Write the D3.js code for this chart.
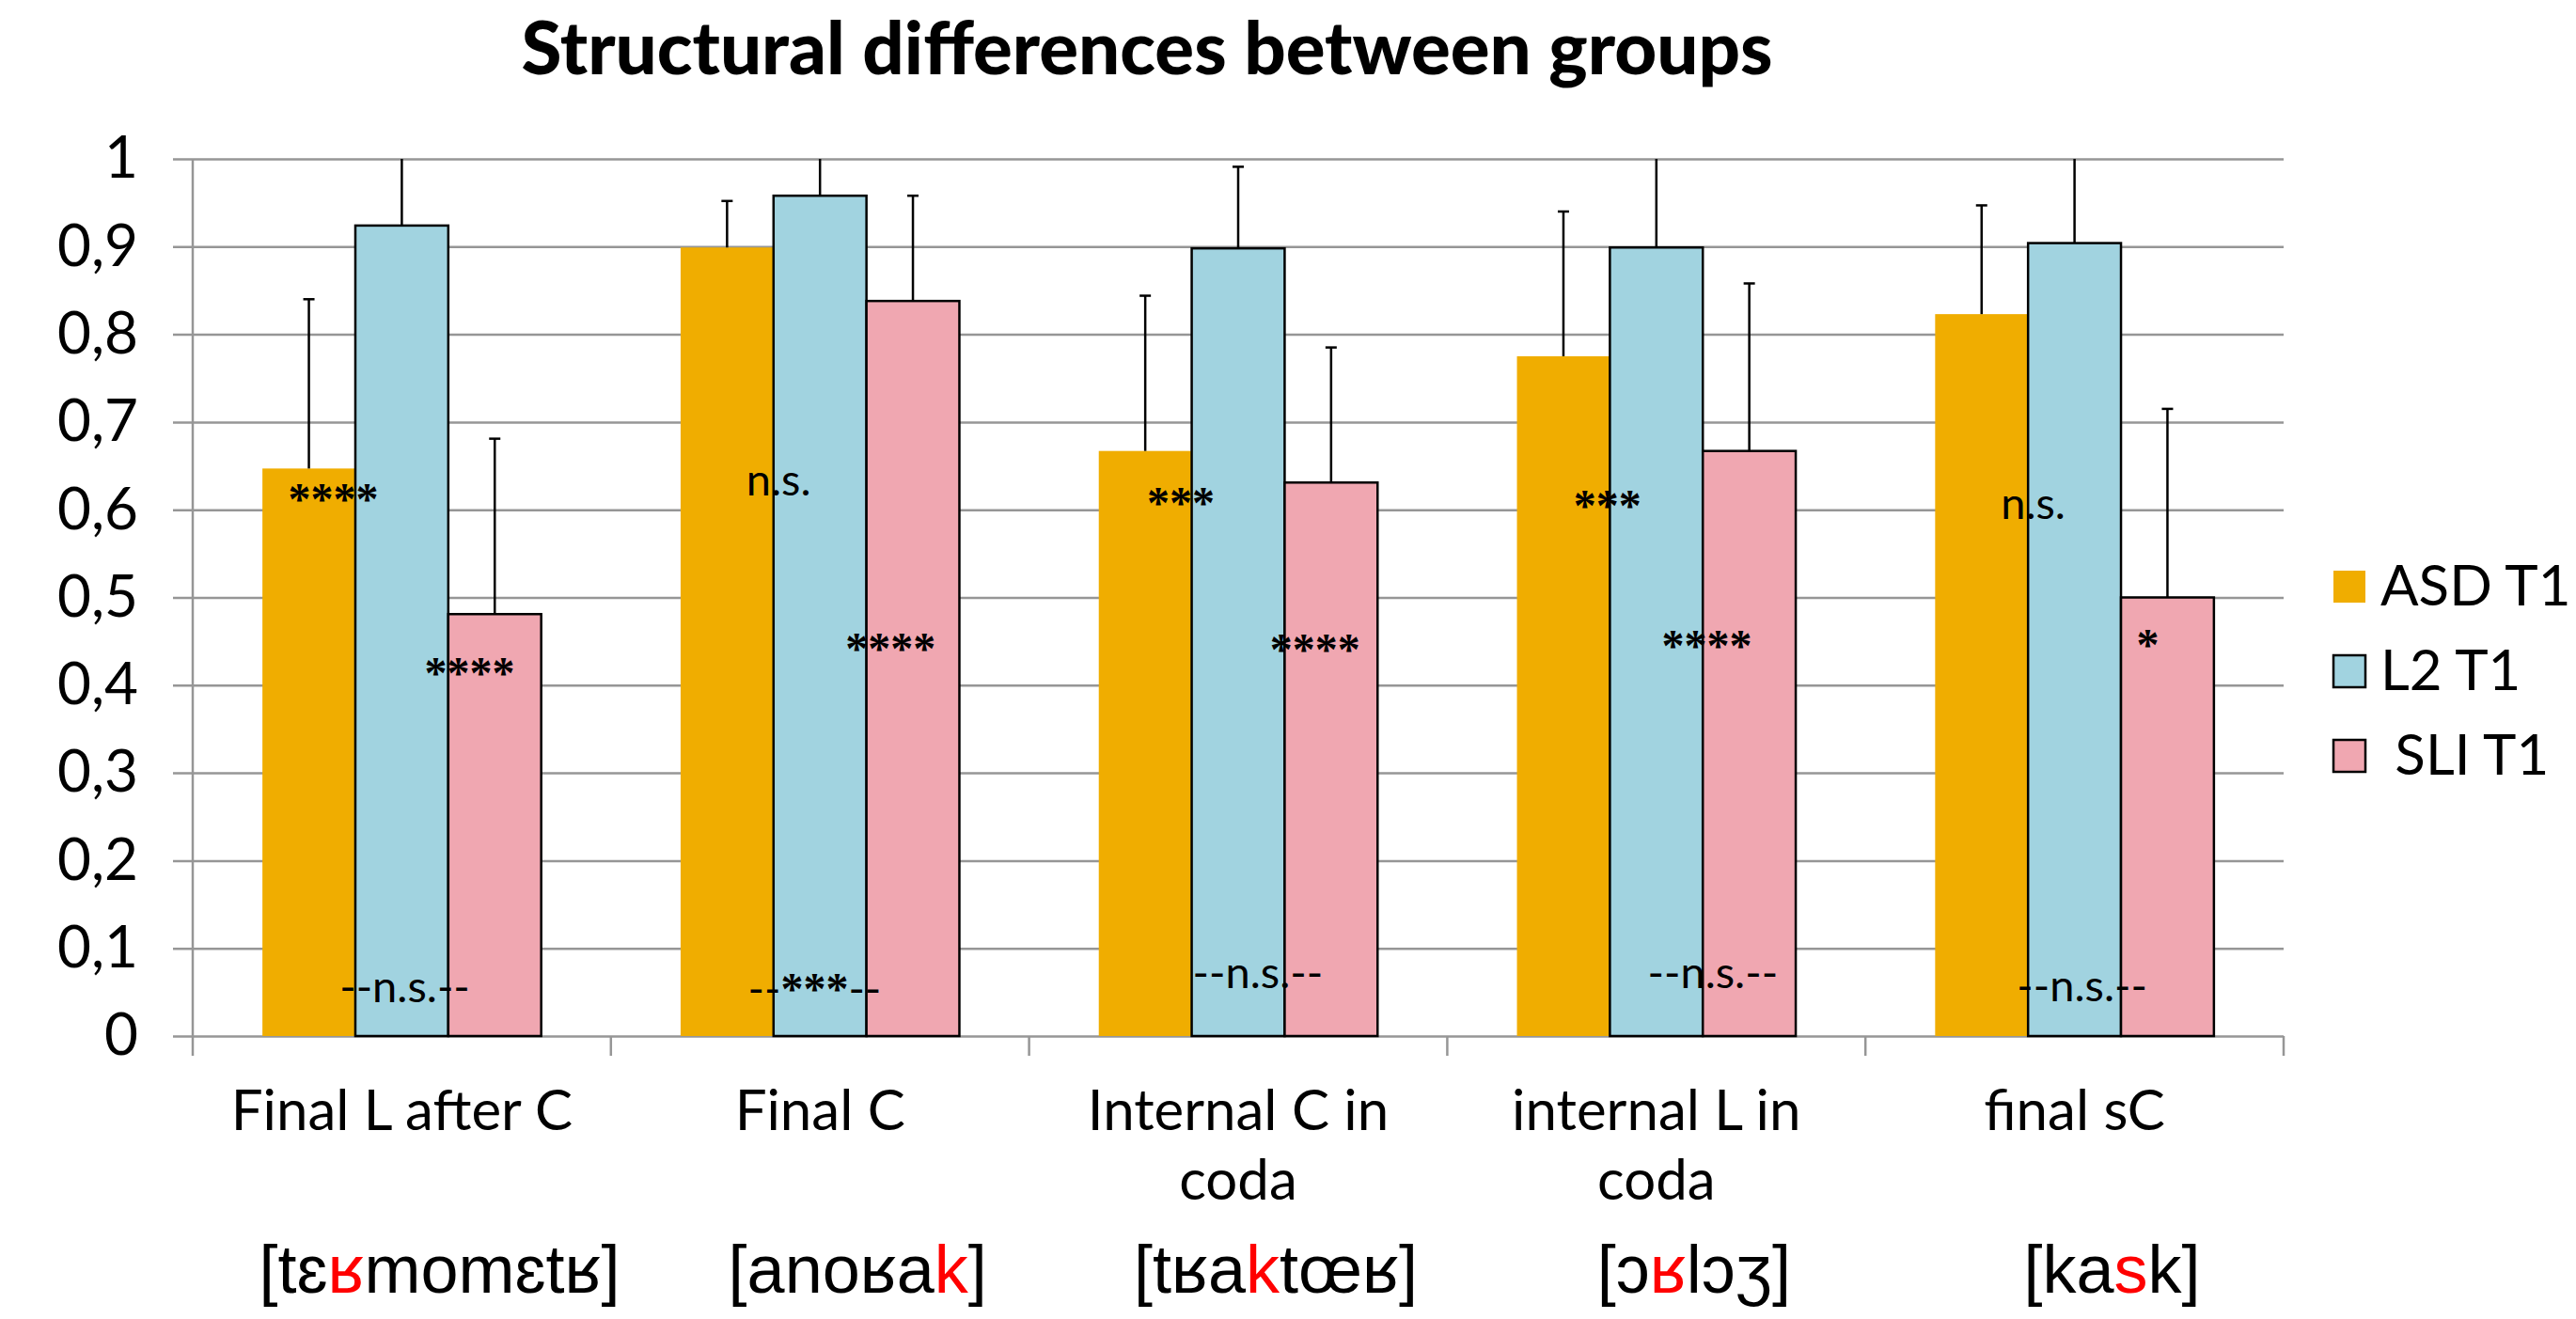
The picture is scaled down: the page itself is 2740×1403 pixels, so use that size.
<!DOCTYPE html>
<html>
<head>
<meta charset="utf-8">
<script src="https://cdn.jsdelivr.net/npm/d3@7"></script>
<style>
  body { margin: 0; background: #fff; }
  svg { display: block; }
</style>
</head>
<body>
<svg width="2740" height="1403"></svg>
<script>
var categories = ["Final L after C", "Final C", "Internal C in\ncoda", "internal L in\ncoda", "final sC"];
var seriesNames = ["ASD T1", "L2 T1", " SLI T1"];
var seriesColors = ["#f0ad00", "#a1d3e0", "#f0a7b1"];

// mean scores
var asd = [0.647, 0.899, 0.667, 0.775, 0.823];
var l2 = [0.924, 0.958, 0.898, 0.899, 0.904];
var sli = [0.481, 0.838, 0.631, 0.667, 0.500];

// standard deviations (plus side only), L2 ones mostly clipped at 1
var asdSD = [0.193, 0.053, 0.177, 0.165, 0.124];
var l2SD = [0.11, 0.07, 0.093, 0.13, 0.12];
var sliSD = [0.200, 0.120, 0.154, 0.191, 0.215];

var tickValues = [0, 0.1, 0.2, 0.3, 0.4, 0.5, 0.6, 0.7, 0.8, 0.9, 1];
var tickLabels = ["0", "0,1", "0,2", "0,3", "0,4", "0,5", "0,6", "0,7", "0,8", "0,9", "1"];

// IPA example words, middle part is red
var ipaBefore = ["[tɛ", "[anoʁa", "[tʁa", "[ɔ", "[ka"];
var ipaRed = ["ʁ", "k", "k", "ʁ", "s"];
var ipaAfter = ["momɛtʁ]", "]", "tœʁ]", "lɔʒ]", "k]"];

// significance notes: category, offset across the band, height (value)
var noteText = ["****", "****", "--n.s.--", "n.s.", "****", "--***--", "***", "****", "--n.s.--", "***", "****", "--n.s.--", "n.s.", "*", "--n.s.--"];
var noteCat = [0, 0, 0, 1, 1, 1, 2, 2, 2, 3, 3, 3, 4, 4, 4];
var noteDx = [-0.164, 0.162, 0.007, -0.099, 0.169, -0.013, -0.137, 0.184, 0.047, -0.117, 0.121, 0.135, -0.099, 0.175, 0.018];
var noteY = [0.595, 0.397, 0.039, 0.616, 0.424, 0.036, 0.591, 0.423, 0.055, 0.587, 0.428, 0.055, 0.590, 0.429, 0.040];

var svg = d3.select("svg"),
  plotLeft = 205, plotRight = 2429, plotTop = 169, plotBottom = 1102;

var sans = "Lato, 'Open Sans', sans-serif";

var x = d3.scaleBand()
  .domain(categories)
  .range([plotLeft, plotRight]);

var bw = x.bandwidth() / 4.5;
var x1 = d3.scaleBand()
  .domain(d3.range(3))
  .range([x.bandwidth() / 2 - 1.5 * bw, x.bandwidth() / 2 + 1.5 * bw]);

var y = d3.scaleLinear()
  .domain([0, 1])
  .range([plotBottom, plotTop]);

var grey = "#969696";

// title
svg.append("text")
  .attr("x", 1220)
  .attr("y", 79)
  .attr("text-anchor", "middle")
  .style("font-family", sans)
  .style("font-weight", 900)
  .style("font-size", "78px")
  .text("Structural differences between groups");

// y axis with gridlines
var yAxis = svg.append("g")
  .attr("transform", "translate(184,0)")
  .call(d3.axisLeft(y)
    .tickValues(tickValues)
    .tickFormat(function(d, i) { return tickLabels[i]; })
    .tickSize(-(plotRight - 184))
    .tickPadding(37));

yAxis.select(".domain").remove();
yAxis.selectAll(".tick line")
  .attr("stroke", grey)
  .attr("stroke-width", 2.5);
yAxis.selectAll(".tick text")
  .style("font-family", sans)
  .style("font-size", "62px")
  .attr("fill", "#000");

// vertical axis line and category ticks
svg.append("line")
  .attr("x1", plotLeft).attr("x2", plotLeft)
  .attr("y1", plotTop).attr("y2", plotBottom + 21)
  .attr("stroke", grey).attr("stroke-width", 2.5);

svg.selectAll(".cat-tick")
  .data(categories)
  .enter().append("line")
  .attr("class", "cat-tick")
  .attr("x1", function(d) { return x(d) + x.bandwidth(); })
  .attr("x2", function(d) { return x(d) + x.bandwidth(); })
  .attr("y1", plotBottom)
  .attr("y2", plotBottom + 21)
  .attr("stroke", grey).attr("stroke-width", 2.5);

// bars
var table = categories.map(function(c, i) {
  return [
    { cat: c, s: 0, v: asd[i], sd: asdSD[i] },
    { cat: c, s: 1, v: l2[i], sd: l2SD[i] },
    { cat: c, s: 2, v: sli[i], sd: sliSD[i] }
  ];
});

svg.append("defs").append("clipPath")
  .attr("id", "plot")
  .append("rect")
  .attr("x", plotLeft).attr("y", plotTop)
  .attr("width", plotRight - plotLeft).attr("height", plotBottom - plotTop);

var group = svg.append("g").selectAll("g")
  .data(table)
  .enter().append("g")
  .attr("transform", function(d) { return "translate(" + x(d[0].cat) + ",0)"; });

group.selectAll("rect")
  .data(function(d) { return d; })
  .enter().append("rect")
  .attr("x", function(d) { return x1(d.s); })
  .attr("y", function(d) { return y(d.v); })
  .attr("width", bw)
  .attr("height", function(d) { return y(0) - y(d.v); })
  .attr("fill", function(d) { return seriesColors[d.s]; })
  .attr("stroke", function(d) { return d.s === 0 ? "none" : "#000"; })
  .attr("stroke-width", 2.5);

// error bars (upper only)
var err = svg.append("g").attr("clip-path", "url(#plot)")
  .selectAll("g")
  .data(d3.merge(table))
  .enter().append("g")
  .attr("transform", function(d) { return "translate(" + (x(d.cat) + x1(d.s) + bw / 2) + ",0)"; })
  .attr("stroke", "#000")
  .attr("stroke-width", 2.5);

err.append("line")
  .attr("y1", function(d) { return y(d.v); })
  .attr("y2", function(d) { return y(d.v + d.sd); });

err.append("line")
  .attr("x1", -6).attr("x2", 6)
  .attr("y1", function(d) { return y(d.v + d.sd); })
  .attr("y2", function(d) { return y(d.v + d.sd); });

// significance notes, asterisks set in a serif face
var notes = svg.append("g").selectAll("text")
  .data(noteText)
  .enter().append("text")
  .attr("x", function(d, i) { return x(categories[noteCat[i]]) + x.bandwidth() * (0.5 + noteDx[i]); })
  .attr("y", function(d, i) { return y(noteY[i]); })
  .attr("text-anchor", "middle")
  .style("font-family", sans)
  .style("font-size", "47px");

notes.selectAll("tspan")
  .data(function(d) { return d.match(/\*+|[^*]+/g); })
  .enter().append("tspan")
  .style("font-family", function(d) { return d[0] === "*" ? "'Liberation Serif', serif" : sans; })
  .style("font-size", function(d) { return d[0] === "*" ? "48px" : "47px"; })
  .style("font-weight", function(d) { return d[0] === "*" ? 700 : 400; })
  .text(function(d) { return d; });

// category labels
var catLabel = svg.append("g").selectAll("text")
  .data(categories)
  .enter().append("text")
  .attr("x", function(d) { return x(d) + x.bandwidth() / 2; })
  .attr("y", 1202)
  .attr("text-anchor", "middle")
  .style("font-family", sans)
  .style("font-size", "60px");

catLabel.selectAll("tspan")
  .data(function(d) { return d.split("\n"); })
  .enter().append("tspan")
  .attr("x", function() { return d3.select(this.parentNode).attr("x"); })
  .attr("dy", function(d, i) { return i ? 74 : 0; })
  .text(function(d) { return d; });

// IPA words
var ipa = svg.append("g").selectAll("text")
  .data(categories)
  .enter().append("text")
  .attr("x", function(d) { return x(d) + x.bandwidth() / 2 + 40; })
  .attr("y", 1375)
  .attr("text-anchor", "middle")
  .style("font-family", "'Liberation Sans', 'DejaVu Sans', sans-serif")
  .style("font-size", "72px");

ipa.append("tspan").text(function(d, i) { return ipaBefore[i]; });
ipa.append("tspan").attr("fill", "#ff0000").text(function(d, i) { return ipaRed[i]; });
ipa.append("tspan").text(function(d, i) { return ipaAfter[i]; });

// legend
var legend = svg.append("g").selectAll("g")
  .data(seriesNames)
  .enter().append("g")
  .attr("transform", function(d, i) { return "translate(2482," + (607 + i * 90) + ")"; });

legend.append("rect")
  .attr("width", 34).attr("height", 34)
  .attr("fill", function(d, i) { return seriesColors[i]; })
  .attr("stroke", function(d, i) { return i === 0 ? "none" : "#000"; })
  .attr("stroke-width", 2.5);

legend.append("text")
  .attr("x", 50)
  .attr("y", 37)
  .style("font-family", sans)
  .style("font-size", "60px")
  .style("white-space", "pre")
  .text(function(d) { return d; });
</script>
</body>
</html>
